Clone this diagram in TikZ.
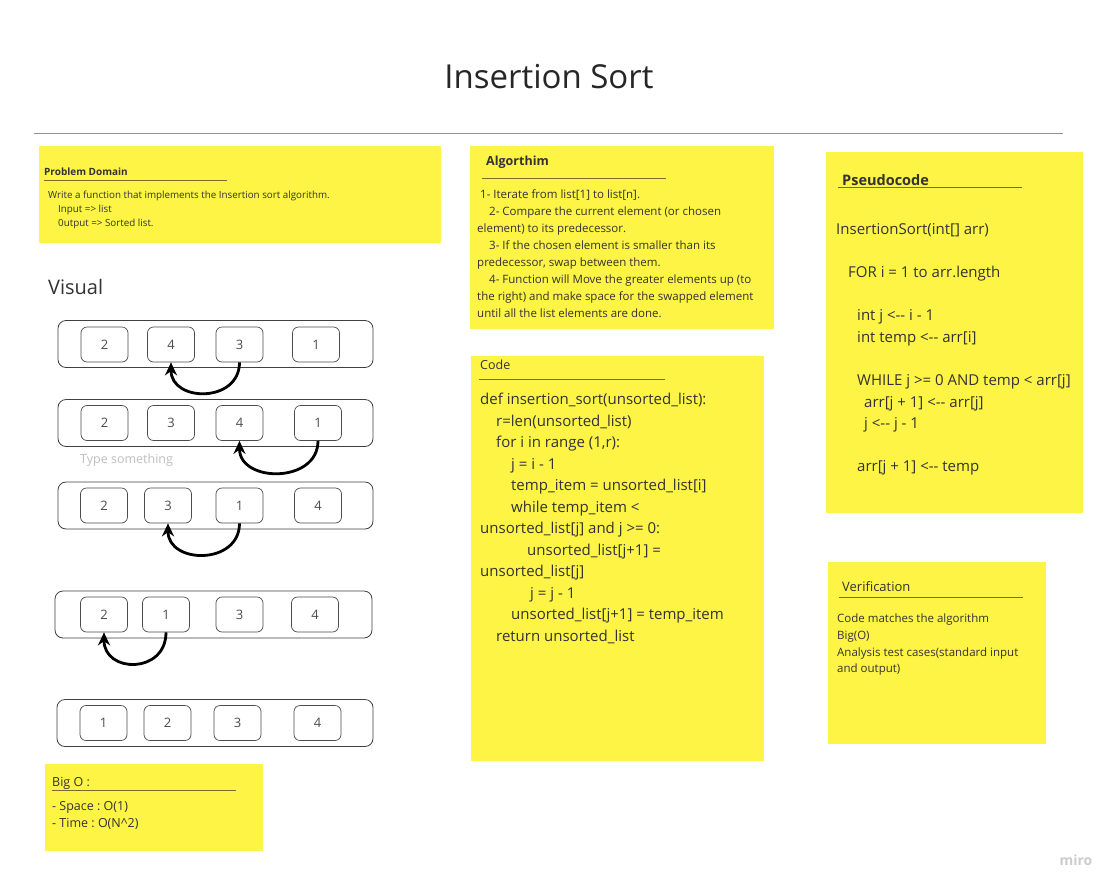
\documentclass[tikz,border=0pt]{standalone}
\usepackage{fontspec}
\setmainfont{Open Sans}[Ligatures=TeXOff]
\usetikzlibrary{arrows.meta}
\frenchspacing

\definecolor{sticky}{RGB}{254,244,69}
\definecolor{inkgray}{RGB}{51,51,51}
\definecolor{ruleolive}{RGB}{118,110,40}

\newcommand{\fs}[2]{\fontsize{#1}{#2}\selectfont}

\tikzset{
  note title/.style={anchor=west, inner sep=0pt, text=inkgray},
  note text/.style={anchor=north west, inner sep=0pt, align=left, text=inkgray},
  note rule/.style={draw=ruleolive, line width=0.8pt},
  row box/.style={draw=black!75, rounded corners=8pt, line width=0.8pt, minimum height=47pt, inner sep=0pt},
  cell/.style={draw=black!70, rounded corners=6pt, line width=0.7pt, text=black!70, font=\fs{13}{15}, minimum width=47pt, minimum height=35pt, inner sep=0pt},
  swap arrow/.style={-{Stealth[length=13pt,width=12pt]}, line width=2.8pt, black},
}

\begin{document}
\begin{tikzpicture}[x=1pt, y=-1pt]

% Page
\fill[white] (0,0) rectangle (1120,892);
\useasboundingbox (0,0) rectangle (1120,892);

% Title and rule
\node[font=\fs{33}{40}, text=black!85] (title) at (549,77) {Insertion Sort};
\draw[gray!85, line width=1.2pt] (34,133.5) -- (1063,133.5);

% Problem domain
\fill[sticky] (39,146) rectangle (441,243);
\node[note title, font=\bfseries\fs{10}{12}] (pdtitle) at (44,172) {Problem Domain};
\draw[note rule] (44,180) -- (227,180);
\node[note text, font=\fs{9.8}{14}] (pdtext) at (48,190.5) {Write a function that implements the Insertion sort algorithm.\\
\hspace*{10pt}Input => list\\
\hspace*{10pt}0utput => Sorted list.};

% Algorithm
\fill[sticky] (470,146) rectangle (774,329);
\node[note title, font=\bfseries\fs{12.5}{15}] (algtitle) at (486,162) {Algorthim};
\draw[note rule] (482,178) -- (666,178);
\node[note text, font=\fs{11.5}{17}] (algtext) at (477,189.7) {\hspace*{3pt}1- Iterate from list[1] to list[n].\\
\hspace*{12pt}2- Compare the current element (or chosen\\
element) to its predecessor.\\
\hspace*{12pt}3- If the chosen element is smaller than its\\
predecessor, swap between them.\\
\hspace*{12pt}4- Function will Move the greater elements up (to\\
the right) and make space for the swapped element\\
until all the list elements are done.};

% Pseudocode
\fill[sticky] (826,152) rectangle (1083,513);
\node[note title, font=\bfseries\fs{14.5}{17}] (pseudotitle) at (842,180) {Pseudocode};
\draw[note rule] (838,187) -- (1022,187);
\node[note text, font=\fs{15}{21.6}] (pseudotext) at (836,223) {InsertionSort(int[] arr)\\[21.6pt]
\hspace*{12pt}FOR i = 1 to arr.length\\[21.6pt]
\hspace*{21pt}int j <-- i - 1\\
\hspace*{21pt}int temp <-- arr[i]\\[21.6pt]
\hspace*{21pt}WHILE j >= 0 AND temp < arr[j]\\
\hspace*{28pt}arr[j + 1] <-- arr[j]\\
\hspace*{28pt}j <-- j - 1\\[21.6pt]
\hspace*{21pt}arr[j + 1] <-- temp};

% Code
\fill[sticky] (471,356) rectangle (764,761);
\node[note title, font=\fs{12.5}{15}] (codetitle) at (480,365) {Code};
\draw[note rule] (479,379) -- (665,379);
\node[note text, font=\fs{15}{21.5}] (codetext) at (480,393) {def insertion\_sort(unsorted\_list):\\
\hspace*{16pt}r=len(unsorted\_list)\\
\hspace*{16pt}for i in range (1,r):\\
\hspace*{31pt}j = i - 1\\
\hspace*{31pt}temp\_item = unsorted\_list[i]\\
\hspace*{31pt}while temp\_item <\\
unsorted\_list[j] and j >= 0:\\
\hspace*{47pt}unsorted\_list[j+1] =\\
unsorted\_list[j]\\
\hspace*{50pt}j = j - 1\\
\hspace*{31pt}unsorted\_list[j+1] = temp\_item\\
\hspace*{16pt}return unsorted\_list};

% Verification
\fill[sticky] (828,562) rectangle (1046,744);
\node[note title, font=\fs{13}{15}] (veriftitle) at (842,587) {Verification};
\draw[note rule] (839,597) -- (1023,597);
\node[note text, font=\fs{11.5}{16.7}] (veriftext) at (837,613.7) {Code matches the algorithm\\
Big(O)\\
Analysis test cases(standard input\\
and output)};

% Big O
\fill[sticky] (45,764) rectangle (263,851);
\node[note title, font=\fs{12.5}{15}] (bigotitle) at (52,783) {Big O :};
\draw[note rule] (52,790) -- (236,790);
\node[note text, font=\fs{12.5}{16.5}] (bigotext) at (52,801.3) {- Space : O(1)\\
- Time : O(N\textasciicircum 2)};

% Visual
\node[anchor=west, inner sep=0pt, font=\fs{20}{24}, text=inkgray] (visual) at (48,287) {Visual};
\node[anchor=west, inner sep=0pt, font=\fs{12.5}{15}, text=black!25] (hint) at (80,460) {Type something};

% Row 1
\node[row box, minimum width=315pt] (r1) at (215.5,344) {};
\node[cell] (r1c1) at (104.5,344.5) {2};
\node[cell] (r1c2) at (171,344.5) {4};
\node[cell] (r1c3) at (239.5,344.5) {3};
\node[cell] (r1c4) at (316,344.5) {1};
\draw[swap arrow] (r1c3.south) .. controls +(0,41) and +(0,40) .. (r1c2.south);

% Row 2
\node[row box, minimum width=315pt] (r2) at (215.5,423) {};
\node[cell] (r2c1) at (104.5,423) {2};
\node[cell] (r2c2) at (171,423) {3};
\node[cell] (r2c3) at (239.5,423) {4};
\node[cell] (r2c4) at (318,423) {1};
\draw[swap arrow] (r2c4.south) .. controls +(0,43) and +(0,42) .. (r2c3.south);

% Row 3
\node[row box, minimum width=315pt] (r3) at (215.5,505.5) {};
\node[cell] (r3c1) at (104,505.5) {2};
\node[cell] (r3c2) at (168,505.5) {3};
\node[cell] (r3c3) at (239.5,505.5) {1};
\node[cell] (r3c4) at (318,505.5) {4};
\draw[swap arrow] (r3c3.south) .. controls +(0,42) and +(0,41) .. (r3c2.south);

% Row 4
\node[row box, minimum width=317pt] (r4) at (213.5,614.5) {};
\node[cell] (r4c1) at (104,614.5) {2};
\node[cell] (r4c2) at (166,614.5) {1};
\node[cell] (r4c3) at (239.5,614.5) {3};
\node[cell] (r4c4) at (315,614.5) {4};
\draw[swap arrow] (r4c2.south) .. controls +(0,42) and +(0,41) .. (r4c1.south);

% Row 5
\node[row box, minimum width=316pt] (r5) at (215,723) {};
\node[cell] (r5c1) at (103.5,723) {1};
\node[cell] (r5c2) at (167.5,723) {2};
\node[cell] (r5c3) at (237.5,723) {3};
\node[cell] (r5c4) at (317.5,723) {4};

% Logo
\node[font=\bfseries\fs{14}{16}, text=black!20] (miro) at (1076,860) {miro};

\end{tikzpicture}
\end{document}
